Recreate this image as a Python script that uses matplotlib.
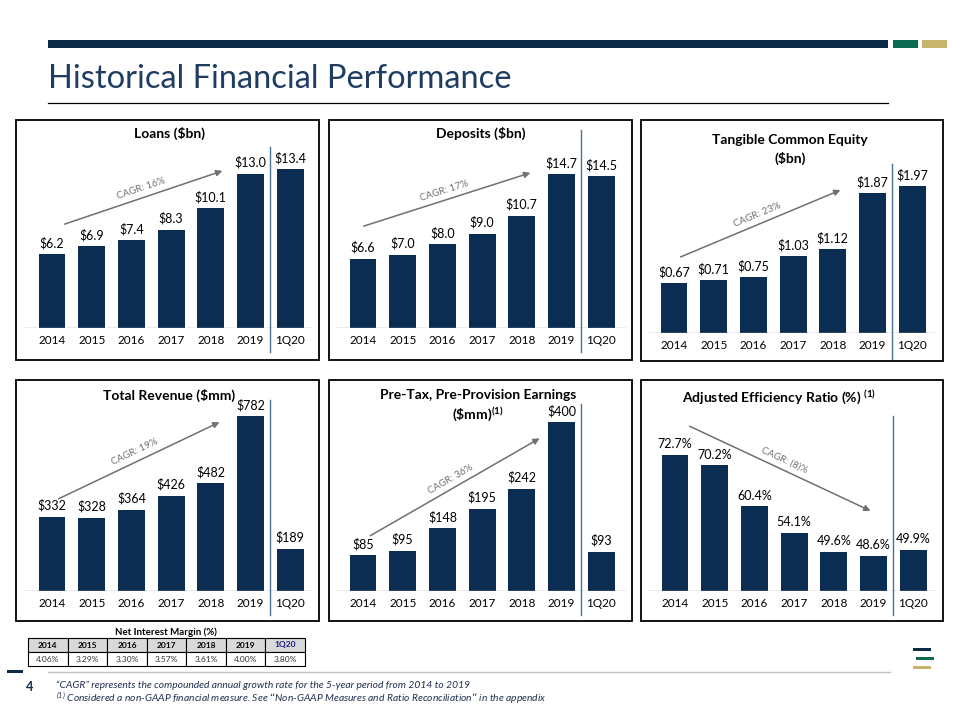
import math
import matplotlib
matplotlib.use('Agg')
import matplotlib.pyplot as plt
from matplotlib.patches import Rectangle, FancyArrowPatch
from matplotlib.lines import Line2D
from matplotlib.transforms import blended_transform_factory

plt.rcParams['font.family'] = ['Lato', 'DejaVu Sans']
plt.rcParams['mathtext.default'] = 'regular'

# ---- data ----
years = ['2014', '2015', '2016', '2017', '2018', '2019', '1Q20']
loans = [6.2, 6.9, 7.4, 8.3, 10.1, 13.0, 13.4]
deposits = [6.6, 7.0, 8.0, 9.0, 10.7, 14.7, 14.5]
tce = [0.67, 0.71, 0.75, 1.03, 1.12, 1.87, 1.97]
revenue = [332, 328, 364, 426, 482, 782, 189]
pppe = [85, 95, 148, 195, 242, 400, 93]
efficiency = [72.7, 70.2, 60.4, 54.1, 49.6, 48.6, 49.9]
cagr_labels = ['CAGR: 16%', 'CAGR: 17%', 'CAGR: 23%', 'CAGR: 19%', 'CAGR: 36%', 'CAGR: (8)%']
nim_years = ['2014', '2015', '2016', '2017', '2018', '2019', '1Q20']
nim_values = ['4.06%', '3.29%', '3.30%', '3.57%', '3.61%', '4.00%', '3.80%']

NAVY = '#0c2d52'
HEAD_NAVY = '#0d2a47'
GREEN = '#0b6b50'
GOLD = '#c8b46c'
SEP = '#4a7393'
ARROW = '#707070'

W, H = 960, 720


def fx(x):
    return x / W


def fy(y):
    return 1 - y / H


fig = plt.figure(figsize=(9.6, 7.2), dpi=100)

# header band + title
fig.add_artist(Rectangle((fx(48), fy(48)), 840 / W, 8 / H, transform=fig.transFigure, color=HEAD_NAVY, lw=0))
fig.add_artist(Rectangle((fx(893), fy(48)), 25 / W, 8 / H, transform=fig.transFigure, color=GREEN, lw=0))
fig.add_artist(Rectangle((fx(922), fy(48)), 25 / W, 8 / H, transform=fig.transFigure, color=GOLD, lw=0))
fig.text(fx(48), fy(88), 'Historical Financial Performance', fontsize=23.5, color='#1f3d63', va='baseline')
fig.add_artist(Line2D([fx(48), fx(888)], [fy(103), fy(103)], transform=fig.transFigure, color='black', lw=0.9))

# panel layout in pixels
panels = [
    dict(vals=loans, fmt='${:.1f}', box=(16, 120, 319, 360), base=328, c0=52, ref=(13.4, 169), v0=0,
         sep=(147, 352), arrow=((62, 225), (225, 170)), tx=169, titles=[('Loans ($bn)', 133)]),
    dict(vals=deposits, fmt='${:.1f}', box=(329, 120, 632, 360), base=328, c0=363, ref=(14.7, 174), v0=0,
         sep=(130, 352), arrow=((361, 227), (533, 172)), tx=481, titles=[('Deposits ($bn)', 133)]),
    dict(vals=tce, fmt='${:.2f}', box=(641, 120, 943, 361), base=333, c0=674, ref=(1.97, 186), v0=0,
         sep=(164, 360), arrow=((678, 258), (843, 189)), tx=790,
         titles=[('Tangible Common Equity', 140), ('($bn)', 158)]),
    dict(vals=revenue, fmt='${:.0f}', box=(16, 380, 319, 621), base=591, c0=52, ref=(782, 416), v0=0,
         sep=(400, 615), arrow=((56, 500), (222, 421)), tx=169, titles=[('Total Revenue ($mm)', 395)]),
    dict(vals=pppe, fmt='${:.0f}', box=(329, 380, 632, 621), base=591, c0=363, ref=(400, 422), v0=0,
         sep=(404, 615), arrow=((368, 537), (542, 437)), tx=478,
         titles=[('Pre-Tax, Pre-Provision Earnings', 395), (r'(\$mm)$^{(1)}$', 414)]),
    dict(vals=efficiency, fmt='{:.1f}%', box=(641, 380, 943, 621), base=591, c0=675, ref=(72.7, 455), v0=40.2,
         sep=(416, 615), arrow=((687, 425), (873, 512)), tx=779,
         titles=[(r'Adjusted Efficiency Ratio (%) $^{(1)}$', 397)]),
]

SP = 39.7
x = list(range(len(years)))

for p, cagr in zip(panels, cagr_labels):
    l, t, r, b = p['box']
    base = p['base']
    fig.add_artist(Rectangle((fx(l), fy(b)), (r - l) / W, (b - t) / H, transform=fig.transFigure,
                             fill=False, ec='black', lw=1.3))
    ax = fig.add_axes([fx(l), fy(base), (r - l) / W, (base - t) / H])
    ax.patch.set_alpha(0)
    for s in ax.spines.values():
        s.set_visible(False)
    ax.set_xlim(-(p['c0'] - l) / SP, (r - p['c0']) / SP)
    v0 = p['v0']
    vref, ytop = p['ref']
    per_px = (vref - v0) / (base - ytop)
    ax.set_ylim(v0, v0 + (base - t) * per_px)
    ax.bar(x, [v - v0 for v in p['vals']], bottom=v0, width=0.68, color=NAVY)
    for xi, v in zip(x, p['vals']):
        ax.annotate(p['fmt'].format(v), (xi, v), xytext=(0, 5), textcoords='offset points',
                    ha='center', va='baseline', fontsize=9, color='black')
    ax.set_xticks(x)
    ax.set_xticklabels(years, fontsize=8.5)
    ax.set_yticks([])
    ax.tick_params(axis='x', length=0, pad=5)
    ax.axhline(v0, xmin=7 / (r - l), xmax=1 - 7 / (r - l), color='#a6a6a6', lw=1)
    tr = blended_transform_factory(ax.transData, fig.transFigure)
    ax.add_line(Line2D([5.5, 5.5], [fy(p['sep'][0]), fy(p['sep'][1])], transform=tr, color=SEP,
                       lw=1, clip_on=False))
    for txt, ty in p['titles']:
        fig.text(fx(p['tx']), fy(ty), txt, ha='center', va='center', fontsize=10, fontweight='bold')
    # CAGR arrow
    (x0, y0), (x1, y1) = p['arrow']
    fig.add_artist(FancyArrowPatch((fx(x0), fy(y0)), (fx(x1), fy(y1)), transform=fig.transFigure,
                                   arrowstyle='-|>', mutation_scale=9, color=ARROW, lw=1.1))
    dx, dy = x1 - x0, y1 - y0
    ln = math.hypot(dx, dy)
    nx, ny = dy / ln, -dx / ln
    mx, my = (x0 + x1) / 2 + 9 * nx, (y0 + y1) / 2 + 9 * ny
    ang = math.degrees(math.atan2(-dy, dx))
    fig.text(fx(mx), fy(my), cagr, ha='center', va='center', rotation=ang,
             rotation_mode='anchor', fontsize=7, color=ARROW)

# net interest margin table
fig.text(fx(166), fy(632), 'Net Interest Margin (%)', ha='center', va='center', fontsize=7, fontweight='bold')
tax = fig.add_axes([fx(28), fy(666), 277 / W, 28 / H])
tax.axis('off')
tbl = tax.table(cellText=[nim_years, nim_values], cellLoc='center', bbox=[0, 0, 1, 1])
tbl.auto_set_font_size(False)
for (row, col), cell in tbl.get_celld().items():
    cell.set_linewidth(0.8)
    cell.set_edgecolor('black')
    cell.get_text().set_fontsize(6)
    if row == 0:
        cell.set_facecolor('#d9d9d9')
        cell.get_text().set_fontweight('bold')
        if col == len(nim_years) - 1:
            cell.get_text().set_color('#1a1a80')
    else:
        cell.get_text().set_color('#333333')

# footer
fig.add_artist(Line2D([fx(48), fx(890)], [fy(672), fy(672)], transform=fig.transFigure, color='#c0c0c0', lw=1))
fig.add_artist(Rectangle((fx(7), fy(673)), 16 / W, 3 / H, transform=fig.transFigure, color=HEAD_NAVY, lw=0))
fig.text(fx(30), fy(687), '4', ha='center', va='center', fontsize=9, color=HEAD_NAVY, fontweight='bold')
fig.text(fx(56), fy(685), '\u201cCAGR\u201d represents the compounded annual growth rate for the 5-year period from 2014 to 2019',
         ha='left', va='center', fontsize=7.4, style='italic', color='#1f2f4f')
fig.text(fx(56), fy(698), r'$^{(1)}$ Considered a non-GAAP financial measure. See '
         '\u201cNon-GAAP Measures and Ratio Reconciliation\u201d in the appendix',
         ha='left', va='center', fontsize=7.4, style='italic', color='#1f2f4f')
for yy, xx, c in [(649, 913, HEAD_NAVY), (658, 916, GREEN), (667, 913, GOLD)]:
    fig.add_artist(Rectangle((fx(xx), fy(yy + 1.5)), 18 / W, 3 / H, transform=fig.transFigure, color=c, lw=0))

fig.savefig('out.png', dpi=100)
